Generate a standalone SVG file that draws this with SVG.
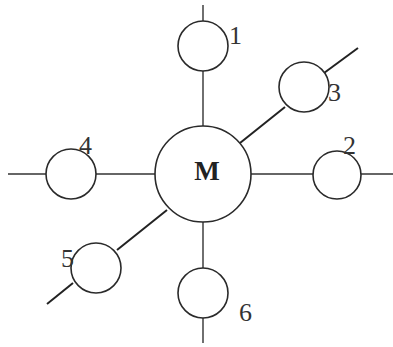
<svg xmlns="http://www.w3.org/2000/svg" width="393" height="347" viewBox="0 0 393 347">
<style>
.c{fill:#fff;stroke:#2a2a2a;stroke-width:1.6}
.l{stroke:#333;stroke-width:1.4;fill:none}
.d{stroke:#222;stroke-width:2;fill:none}
.t{font-family:"Liberation Serif",serif;font-size:26px;fill:#333}
.m{font-family:"Liberation Serif",serif;font-size:27px;font-weight:bold;fill:#222}
</style>
<rect width="393" height="347" fill="#fff"/>
<g id="connectors">
<line class="l" x1="203" y1="5" x2="203" y2="126"/>
<line class="l" x1="203" y1="222" x2="203" y2="343"/>
<line class="l" x1="8" y1="174" x2="393" y2="174"/>
<line class="d" x1="358" y1="48" x2="324" y2="73"/>
<line class="d" x1="285" y1="107" x2="240" y2="143"/>
<line class="d" x1="167" y1="210" x2="117" y2="250"/>
<line class="d" x1="73" y1="283" x2="47" y2="304"/>
</g>
<g id="M"><circle class="c" cx="203" cy="174" r="48"/><text class="m" x="207" y="180" text-anchor="middle">M</text></g>
<g id="n1"><circle class="c" cx="203" cy="46" r="25"/><text class="t" x="229" y="44">1</text></g>
<g id="n2"><circle class="c" cx="337" cy="175" r="24"/><text class="t" x="343" y="154">2</text></g>
<g id="n3"><circle class="c" cx="304" cy="87" r="25"/><text class="t" x="328" y="101">3</text></g>
<g id="n4"><circle class="c" cx="71" cy="174" r="25"/><text class="t" x="79" y="154">4</text></g>
<g id="n5"><circle class="c" cx="96" cy="268" r="25"/><text class="t" x="61" y="267">5</text></g>
<g id="n6"><circle class="c" cx="203" cy="293" r="25"/><text class="t" x="239" y="321">6</text></g>
</svg>
